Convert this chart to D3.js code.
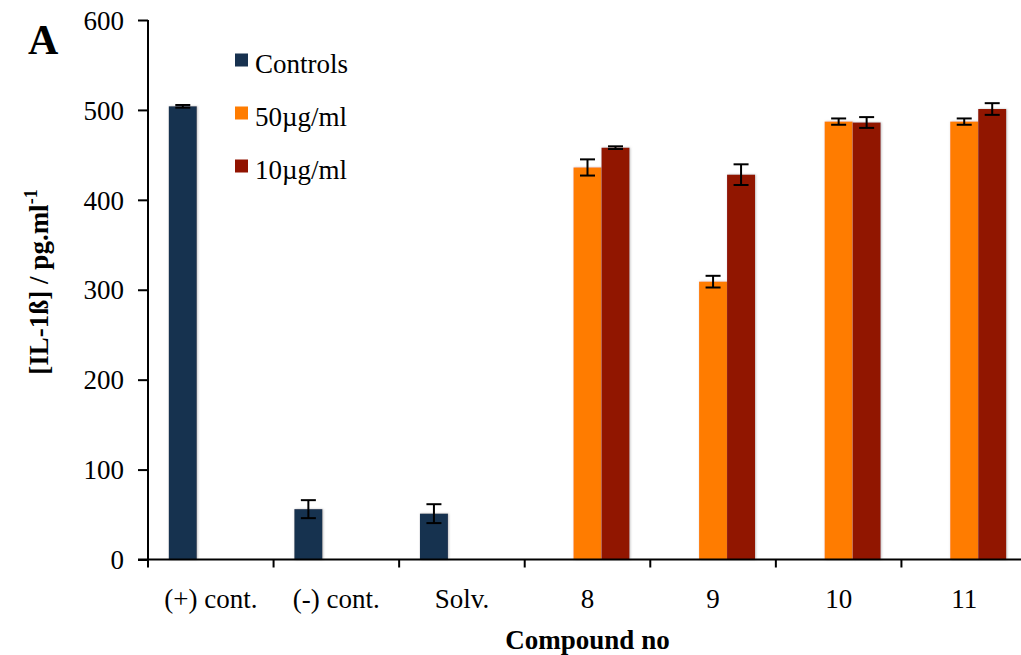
<!DOCTYPE html>
<html>
<head>
<meta charset="utf-8">
<script src="https://cdn.jsdelivr.net/npm/d3@7"></script>
<style>
  html, body { margin: 0; padding: 0; background: #fff; }
  svg { display: block; }
  text { font-family: "Liberation Serif", "Times New Roman", serif; fill: #000; }
</style>
</head>
<body>
<svg id="chart" width="1021" height="655"></svg>
<script>
const categories = ["(+) cont.", "(-) cont.", "Solv.", "8", "9", "10", "11"];
const seriesNames = ["Controls", "50µg/ml", "10µg/ml"];
const controlsValues = [504, 56, 51, null, null, null, null];
const controlsErrors = [1.5, 10, 10.5, null, null, null, null];
const conc50Values = [null, null, null, 436, 309, 487, 487];
const conc50Errors = [null, null, null, 9, 6.5, 3.5, 3.5];
const conc10Values = [null, null, null, 458, 428, 486, 501];
const conc10Errors = [null, null, null, 1.5, 11.5, 6, 6.5];
const yTicks = [0, 100, 200, 300, 400, 500, 600];
const colors = ["#17314f", "#ff7c00", "#911300"];

const svg = d3.select("#chart");
const mLeft = 148, mRight = 1027, mTop = 20, mBottom = 559.5;

const defs = svg.append("defs");
const flt = defs.append("filter").attr("id", "shadow")
  .attr("x", "-20%").attr("y", "-5%").attr("width", "140%").attr("height", "110%");
flt.append("feDropShadow").attr("dx", 0.8).attr("dy", 0).attr("stdDeviation", 1.1)
  .attr("flood-color", "#888").attr("flood-opacity", 0.55);

const x0 = d3.scaleBand().domain(categories).range([mLeft, mRight]).padding(0);
const x1 = d3.scaleBand().domain(seriesNames).range([0, x0.bandwidth()])
  .paddingInner(0).paddingOuter(0.743);
const y = d3.scaleLinear().domain([0, 600]).range([mBottom, mTop]);

const seriesData = [
  { name: seriesNames[0], values: controlsValues, errors: controlsErrors, color: colors[0] },
  { name: seriesNames[1], values: conc50Values, errors: conc50Errors, color: colors[1] },
  { name: seriesNames[2], values: conc10Values, errors: conc10Errors, color: colors[2] }
];

// bars
seriesData.forEach(s => {
  const pts = categories.map((c, i) => ({ c, v: s.values[i], e: s.errors[i] })).filter(d => d.v != null);
  const g = svg.append("g");
  g.selectAll("rect").data(pts).enter().append("rect")
    .attr("x", d => x0(d.c) + x1(s.name))
    .attr("y", d => y(d.v))
    .attr("width", x1.bandwidth())
    .attr("height", d => y(0) - y(d.v))
    .attr("fill", s.color)
    .attr("filter", "url(#shadow)");
});
seriesData.forEach(s => {
  const pts = categories.map((c, i) => ({ c, v: s.values[i], e: s.errors[i] })).filter(d => d.v != null);
  const eg = svg.append("g").attr("stroke", "#000").attr("stroke-width", 2);
  pts.forEach(d => {
    const cx = x0(d.c) + x1(s.name) + x1.bandwidth() / 2;
    const y1 = y(d.v + d.e), y2 = y(d.v - d.e);
    eg.append("line").attr("x1", cx).attr("x2", cx).attr("y1", y1).attr("y2", y2);
    eg.append("line").attr("x1", cx - 7.5).attr("x2", cx + 7.5).attr("y1", y1).attr("y2", y1);
    eg.append("line").attr("x1", cx - 7.5).attr("x2", cx + 7.5).attr("y1", y2).attr("y2", y2);
  });
});

// y axis
const yAxis = svg.append("g").attr("transform", `translate(${mLeft},0)`)
  .call(d3.axisLeft(y).tickValues(yTicks).tickSize(10).tickPadding(14).tickFormat(d3.format("d")));
yAxis.select(".domain").attr("d", `M0,${mTop}V${mBottom}`).attr("stroke", "#000").attr("stroke-width", 2);
yAxis.selectAll(".tick line").attr("stroke", "#000").attr("stroke-width", 2);
yAxis.selectAll(".tick text").attr("font-size", 27).attr("font-family", "Liberation Serif, serif").attr("dy", "0.34em");

// x axis
const xAxis = svg.append("g").attr("transform", `translate(0,${mBottom})`)
  .call(d3.axisBottom(x0).tickSize(0).tickPadding(29));
xAxis.select(".domain").attr("d", `M${mLeft - 10},0H${mRight}`).attr("stroke", "#000").attr("stroke-width", 2);
xAxis.selectAll(".tick text").attr("font-size", 27).attr("font-family", "Liberation Serif, serif");
xAxis.selectAll(".tick line").remove();
const boundaries = categories.map(c => x0(c)).concat([mRight]);
xAxis.selectAll(".bnd").data(boundaries).enter().append("line").attr("class", "bnd")
  .attr("x1", d => d).attr("x2", d => d).attr("y1", 0).attr("y2", 8)
  .attr("stroke", "#000").attr("stroke-width", 2);

// axis titles
svg.append("text").attr("x", (mLeft + mRight) / 2).attr("y", 649)
  .attr("text-anchor", "middle").attr("font-size", 27).attr("font-weight", "bold")
  .text("Compound no");

const yl = svg.append("text").attr("transform", "translate(48,282) rotate(-90)")
  .attr("text-anchor", "middle").attr("font-size", 27).attr("font-weight", "bold");
yl.append("tspan").text("[IL-1ß] / pg.ml");
yl.append("tspan").attr("font-size", 18).attr("dy", -11).text("-1");

// panel letter
svg.append("text").attr("x", 28).attr("y", 54).attr("font-size", 42).attr("font-weight", "bold").text("A");

// legend
const legend = svg.append("g");
seriesData.forEach((s, i) => {
  const yy = 53.5 + i * 53;
  legend.append("rect").attr("x", 235).attr("y", yy).attr("width", 13).attr("height", 13).attr("fill", s.color);
  legend.append("text").attr("x", 255).attr("y", yy + 19.5).attr("font-size", 27).text(s.name);
});
</script>
</body>
</html>
